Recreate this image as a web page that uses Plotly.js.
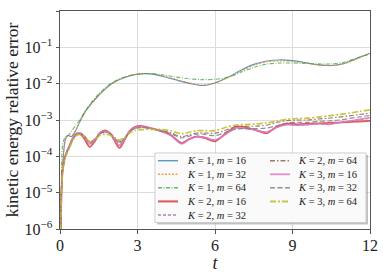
<!DOCTYPE html>
<html><head><meta charset="utf-8">
<script src="https://cdn.plot.ly/plotly-3.0.1.min.js"></script>
<style>html,body{margin:0;padding:0;background:#fff}#chart{width:383px;height:273px}</style>
</head><body><div id="chart"></div>
<script>
// time samples
const tUpper = [0, 0.05, 0.1, 0.2, 0.3, 0.45, 0.6, 0.8, 1.0, 1.5, 2.0, 2.5, 3.0, 3.5, 4.0, 4.5, 5.0, 5.5, 6.0, 6.5, 7.0, 7.5, 8.0, 8.5, 9.0, 9.5, 10.0, 10.5, 11.0, 11.5, 12.0];
const tLower = [0, 0.05, 0.1, 0.2, 0.35, 0.5, 0.65, 0.8, 0.95, 1.15, 1.35, 1.55, 1.75, 1.95, 2.1, 2.3, 2.5, 2.7, 2.9, 3.15, 3.5, 3.9, 4.3, 4.7, 5.0, 5.3, 5.6, 6.0, 6.4, 6.8, 7.2, 7.6, 8.0, 8.4, 8.8, 9.2, 9.6, 10.0, 10.4, 10.8, 11.2, 11.6, 12.0];

// K = 1
const k1m16 = [1e-8, 1e-5, 5.0e-5, 2.8e-4, 3.8e-4, 3.5e-4, 5.0e-4, 1.0e-3, 1.78e-3, 4.8e-3, 1.0e-2, 1.48e-2, 1.82e-2, 1.86e-2, 1.58e-2, 1.26e-2, 1.02e-2, 8.9e-3, 1.05e-2, 1.51e-2, 2.34e-2, 3.4e-2, 4.2e-2, 4.5e-2, 4.3e-2, 3.8e-2, 3.3e-2, 3.16e-2, 3.6e-2, 5.0e-2, 6.9e-2];
const k1m32 = [1e-8, 1e-5, 6.0e-5, 2.6e-4, 3.6e-4, 3.6e-4, 5.2e-4, 1.0e-3, 1.8e-3, 4.9e-3, 1.0e-2, 1.5e-2, 1.85e-2, 1.88e-2, 1.62e-2, 1.3e-2, 1.06e-2, 9.3e-3, 1.05e-2, 1.45e-2, 2.2e-2, 3.2e-2, 3.95e-2, 4.2e-2, 4.1e-2, 3.7e-2, 3.3e-2, 3.15e-2, 3.55e-2, 4.8e-2, 6.8e-2];
const k1m64 = [1e-8, 1.0e-5, 2.0e-4, 3.4e-4, 3.6e-4, 5.0e-4, 7.0e-4, 1.1e-3, 1.9e-3, 5.2e-3, 1.05e-2, 1.52e-2, 1.85e-2, 1.9e-2, 1.74e-2, 1.52e-2, 1.36e-2, 1.29e-2, 1.32e-2, 1.5e-2, 2.05e-2, 2.8e-2, 3.45e-2, 3.7e-2, 3.7e-2, 3.6e-2, 3.5e-2, 3.5e-2, 3.9e-2, 5.1e-2, 6.6e-2];
// K = 2
const k2m16 = [1e-8, 6.3e-6, 4.0e-5, 1.0e-4, 1.8e-4, 3.2e-4, 4.2e-4, 4.0e-4, 3.0e-4, 1.82e-4, 2.6e-4, 4.5e-4, 5.2e-4, 4.2e-4, 2.8e-4, 1.7e-4, 2.8e-4, 5.0e-4, 6.5e-4, 6.9e-4, 6.0e-4, 5.0e-4, 3.8e-4, 2.3e-4, 3.0e-4, 3.5e-4, 3.2e-4, 2.6e-4, 4.2e-4, 6.6e-4, 6.3e-4, 5.2e-4, 4.3e-4, 6.6e-4, 7.9e-4, 7.6e-4, 7.9e-4, 8.1e-4, 8.3e-4, 8.5e-4, 8.7e-4, 9.1e-4, 9.5e-4];
const k2m32 = [1e-8, 6.3e-6, 4.0e-5, 1.0e-4, 1.8e-4, 3.2e-4, 4.3e-4, 4.3e-4, 3.4e-4, 2.2e-4, 2.8e-4, 4.3e-4, 4.8e-4, 4.2e-4, 3.2e-4, 2.1e-4, 3.0e-4, 4.9e-4, 6.0e-4, 6.4e-4, 5.8e-4, 4.9e-4, 3.8e-4, 2.4e-4, 3.0e-4, 3.6e-4, 3.4e-4, 2.8e-4, 4.0e-4, 5.9e-4, 5.8e-4, 5.3e-4, 4.7e-4, 6.3e-4, 7.5e-4, 7.2e-4, 7.4e-4, 7.8e-4, 7.6e-4, 8.4e-4, 9.2e-4, 1.02e-3, 1.12e-3];
const k2m64 = [1e-8, 6.3e-6, 4.0e-5, 1.0e-4, 1.8e-4, 3.0e-4, 4.0e-4, 4.2e-4, 3.6e-4, 2.5e-4, 3.0e-4, 4.2e-4, 4.7e-4, 4.2e-4, 3.4e-4, 2.5e-4, 3.2e-4, 4.8e-4, 5.9e-4, 6.3e-4, 5.9e-4, 5.2e-4, 4.4e-4, 3.5e-4, 3.9e-4, 4.4e-4, 4.4e-4, 4.3e-4, 5.2e-4, 6.5e-4, 6.7e-4, 6.8e-4, 7.2e-4, 8.5e-4, 9.6e-4, 1.0e-3, 1.0e-3, 1.07e-3, 1.12e-3, 1.2e-3, 1.3e-3, 1.42e-3, 1.56e-3];
// K = 3
const k3m16 = [1e-8, 6.3e-6, 4.0e-5, 1.0e-4, 1.8e-4, 3.2e-4, 4.3e-4, 4.4e-4, 3.5e-4, 2.2e-4, 2.9e-4, 4.4e-4, 5.0e-4, 4.3e-4, 3.1e-4, 2.0e-4, 3.0e-4, 5.0e-4, 6.2e-4, 6.6e-4, 5.9e-4, 4.9e-4, 3.7e-4, 2.2e-4, 2.9e-4, 3.5e-4, 3.3e-4, 2.8e-4, 4.0e-4, 6.0e-4, 5.8e-4, 5.2e-4, 4.6e-4, 6.3e-4, 7.4e-4, 7.2e-4, 7.4e-4, 7.9e-4, 7.5e-4, 8.5e-4, 9.4e-4, 1.05e-3, 1.15e-3];
const k3m32 = [1e-8, 6.3e-6, 4.0e-5, 1.0e-4, 1.8e-4, 3.0e-4, 4.0e-4, 4.2e-4, 3.5e-4, 2.4e-4, 2.9e-4, 4.2e-4, 4.7e-4, 4.2e-4, 3.3e-4, 2.4e-4, 3.1e-4, 4.7e-4, 5.8e-4, 6.2e-4, 5.8e-4, 5.0e-4, 4.2e-4, 3.2e-4, 3.6e-4, 4.1e-4, 4.0e-4, 3.7e-4, 4.5e-4, 5.6e-4, 5.8e-4, 5.8e-4, 6.0e-4, 7.0e-4, 8.4e-4, 8.6e-4, 8.6e-4, 9.2e-4, 9.4e-4, 1.0e-3, 1.1e-3, 1.22e-3, 1.33e-3];
const k3m64 = [1e-8, 6.3e-6, 3.5e-5, 9.0e-5, 1.6e-4, 2.8e-4, 3.8e-4, 4.0e-4, 3.4e-4, 2.6e-4, 2.9e-4, 3.8e-4, 4.1e-4, 3.8e-4, 3.2e-4, 2.8e-4, 3.3e-4, 4.4e-4, 5.2e-4, 5.4e-4, 5.5e-4, 5.5e-4, 5.0e-4, 4.2e-4, 4.6e-4, 5.1e-4, 5.1e-4, 5.1e-4, 6.2e-4, 7.3e-4, 7.5e-4, 7.8e-4, 8.3e-4, 9.3e-4, 1.05e-3, 1.1e-3, 1.12e-3, 1.2e-3, 1.3e-3, 1.42e-3, 1.55e-3, 1.72e-3, 1.9e-3];

const seriesLabels = ['<i>K</i> = 1, <i>m</i> = 16', '<i>K</i> = 1, <i>m</i> = 32', '<i>K</i> = 1, <i>m</i> = 64',
  '<i>K</i> = 2, <i>m</i> = 16', '<i>K</i> = 2, <i>m</i> = 32', '<i>K</i> = 2, <i>m</i> = 64',
  '<i>K</i> = 3, <i>m</i> = 16', '<i>K</i> = 3, <i>m</i> = 32', '<i>K</i> = 3, <i>m</i> = 64'];
const yTickVals = [1e-6, 1e-5, 1e-4, 1e-3, 1e-2, 1e-1, 1];
const yTickText = ['10<sup>−6</sup>', '10<sup>−5</sup>', '10<sup>−4</sup>', '10<sup>−3</sup>', '10<sup>−2</sup>', '10<sup>−1</sup>', '10<sup>0</sup>'];
const xTickVals = [0, 3, 6, 9, 12];

// styles
const colors = ['rgba(31,119,180,0.75)', 'rgba(255,127,14,0.75)', 'rgba(44,160,44,0.7)', 'rgba(214,39,40,0.75)', 'rgba(148,103,189,0.8)', 'rgba(140,86,75,0.8)', 'rgba(227,119,194,0.85)', 'rgba(127,127,127,0.85)', 'rgba(188,189,34,0.85)'];
const dashes = ['solid', '2px,1.5px', '4px,1.5px,1px,1.5px', 'solid', '3px,2px', '5px,2px,1.5px,2px', 'solid', '5px,2.5px', '6px,2px,2px,2px'];
const widths = [1.1, 1.1, 1.1, 1.8, 1.1, 1.1, 1.5, 1.2, 1.7];

const xs = [tUpper, tUpper, tUpper, tLower, tLower, tLower, tLower, tLower, tLower];
const ys = [k1m16, k1m32, k1m64, k2m16, k2m32, k2m64, k3m16, k3m32, k3m64];

const traces = ys.map((y, i) => ({
  x: xs[i], y: y, type: 'scatter', mode: 'lines', name: seriesLabels[i],
  line: {color: colors[i], dash: dashes[i], width: widths[i], shape: 'spline', smoothing: 0.8},
  showlegend: false, hoverinfo: 'skip'
}));

// manual legend (layout decoration), pixel -> paper conversion
const L = 60, T = 11, W = 310, H = 218;
const px = v => (v - L) / W;
const py = v => (T + H - v) / H;
const serif = 'Liberation Serif, serif';
const shapes = [
  {type: 'rect', xref: 'paper', yref: 'paper', x0: px(157), x1: px(368), y0: py(155), y1: py(224.5), fillcolor: 'rgba(120,120,120,0.45)', line: {width: 0}},
  {type: 'rect', xref: 'paper', yref: 'paper', x0: px(155), x1: px(366), y0: py(153), y1: py(222.5), fillcolor: 'rgba(255,255,255,0.92)', line: {color: '#cccccc', width: 1}}
];
const annotations = [];
const rowY = [160.7, 174.3, 187.8, 201.4, 215];
for (let i = 0; i < 9; i++) {
  const col = i < 5 ? 0 : 1;
  const row = i < 5 ? i : i - 5;
  const sx0 = col === 0 ? 158 : 270;
  const tx = col === 0 ? 185 : 296;
  const yy = rowY[row];
  shapes.push({type: 'line', xref: 'paper', yref: 'paper', x0: px(sx0), x1: px(sx0 + 20), y0: py(yy), y1: py(yy),
    line: {color: colors[i], dash: dashes[i], width: widths[i] + 0.3}});
  annotations.push({xref: 'paper', yref: 'paper', x: px(tx), y: py(yy), xanchor: 'left', yanchor: 'middle',
    text: seriesLabels[i], showarrow: false, font: {family: serif, size: 10.5, color: '#222'}});
}

const axisCommon = {
  showline: true, mirror: true, linecolor: '#555', linewidth: 1,
  showgrid: true, gridcolor: '#dcdcdc', gridwidth: 1, zeroline: false,
  ticks: 'outside', ticklen: 3.5, tickcolor: '#555', tickwidth: 1,
  tickfont: {family: serif, size: 16, color: '#222'}
};

const layout = {
  width: 383, height: 273,
  margin: {l: L, r: 13, t: T, b: 44},
  paper_bgcolor: '#fff', plot_bgcolor: '#fff',
  showlegend: false,
  xaxis: Object.assign({}, axisCommon, {range: [0, 12], tickvals: xTickVals, ticklabelstandoff: -2,
    title: {text: '<i>t</i>', font: {family: serif, size: 18, color: '#222'}, standoff: 1}}),
  yaxis: Object.assign({}, axisCommon, {type: 'log', range: [-6, 0], tickvals: yTickVals, ticktext: yTickText,
    title: {text: 'kinetic energy relative error', font: {family: serif, size: 17.5, color: '#222'}, standoff: 1}}),
  shapes: shapes, annotations: annotations
};

Plotly.newPlot('chart', traces, layout, {displayModeBar: false, staticPlot: true});
</script>
</body></html>
